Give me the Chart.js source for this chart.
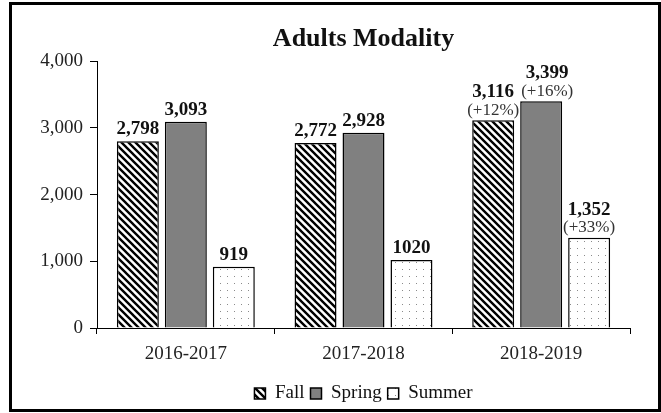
<!DOCTYPE html>
<html>
<head>
<meta charset="utf-8">
<script src="https://cdn.jsdelivr.net/npm/chart.js@4/dist/chart.umd.min.js"></script>
<style>
  html, body { margin: 0; padding: 0; background: #fff; }
  #wrap { width: 661px; height: 413px; }
</style>
</head>
<body>
<div id="wrap"><canvas id="chart" width="661" height="413"></canvas></div>
<script>
// ---- Data ----
const years = ['2016-2017', '2017-2018', '2018-2019'];
const fallValues = [2798, 2772, 3116];
const springValues = [3093, 2928, 3399];
const summerValues = [919, 1020, 1352];
// labels shown above the bars (2017-2018 summer is printed without a comma)
const fallLabels = ['2,798', '2,772', '3,116'];
const springLabels = ['3,093', '2,928', '3,399'];
const summerLabels = ['919', '1020', '1,352'];
const fallPct = ['', '', '(+12%)'];
const springPct = ['', '', '(+16%)'];
const summerPct = ['', '', '(+33%)'];
const yTicks = [0, 1000, 2000, 3000, 4000];

const SERIF = "'Liberation Serif', 'Times New Roman', serif";

// ---- Fill patterns ----
function stripePattern() {
    const c = document.createElement('canvas');
    c.width = 7; c.height = 7;
    const g = c.getContext('2d');
    g.fillStyle = '#fff';
    g.fillRect(0, 0, 7, 7);
    g.strokeStyle = '#000';
    g.lineWidth = 2.4;
    g.beginPath();
    g.moveTo(-7, -7); g.lineTo(14, 14);
    g.moveTo(-7, 0); g.lineTo(7, 14);
    g.moveTo(0, -7); g.lineTo(14, 7);
    g.stroke();
    return g.createPattern(c, 'repeat');
}

function dotPattern() {
    const c = document.createElement('canvas');
    c.width = 7; c.height = 7;
    const g = c.getContext('2d');
    g.fillStyle = '#fff';
    g.fillRect(0, 0, 7, 7);
    g.fillStyle = '#8a8a8a';
    g.fillRect(3, 3, 1, 1);
    return g.createPattern(c, 'repeat');
}

// ---- Value labels above bars ----
const barLabels = {
    id: 'barLabels',
    afterDatasetsDraw(chart) {
        const ctx = chart.ctx;
        const texts = [fallLabels, springLabels, summerLabels];
        const pcts = [fallPct, springPct, summerPct];
        ctx.save();
        ctx.textAlign = 'center';
        ctx.textBaseline = 'middle';
        chart.data.datasets.forEach((ds, di) => {
            chart.getDatasetMeta(di).data.forEach((bar, i) => {
                const x = bar.x + (di === 1 && pcts[di][i] ? 6 : 0);
                if (pcts[di][i]) {
                    ctx.fillStyle = '#333';
                    ctx.font = `17px ${SERIF}`;
                    ctx.fillText(pcts[di][i], x, bar.y - 10);
                    ctx.fillStyle = '#111';
                    ctx.font = `bold 19px ${SERIF}`;
                    ctx.fillText(texts[di][i], x, bar.y - 28);
                } else {
                    ctx.fillStyle = '#111';
                    ctx.font = `bold 19px ${SERIF}`;
                    ctx.fillText(texts[di][i], x, bar.y - 12);
                }
            });
        });
        ctx.restore();
    }
};

// ---- Outer frame ----
const frame = {
    id: 'frame',
    afterDraw(chart) {
        const ctx = chart.ctx;
        ctx.save();
        ctx.strokeStyle = '#000';
        ctx.lineWidth = 3;
        ctx.strokeRect(10.5, 3.5, 649, 407);
        ctx.restore();
    }
};

const ctx = document.getElementById('chart').getContext('2d');
new Chart(ctx, {
    type: 'bar',
    data: {
        labels: years,
        datasets: [
            { label: 'Fall', data: fallValues, backgroundColor: stripePattern(),
              borderColor: '#000', borderWidth: 1.5 },
            { label: 'Spring', data: springValues, backgroundColor: '#808080',
              borderColor: '#000', borderWidth: 1.5 },
            { label: 'Summer', data: summerValues, backgroundColor: dotPattern(),
              borderColor: '#000', borderWidth: 1.5 }
        ]
    },
    options: {
        responsive: false,
        animation: false,
        devicePixelRatio: 1,
        categoryPercentage: 0.81,
        barPercentage: 0.875,
        layout: { padding: { left: 14, right: 31, top: 14, bottom: 0 } },
        plugins: {
            title: {
                display: true, text: 'Adults Modality', color: '#111', fullSize: false,
                font: { family: SERIF, size: 26, weight: 'bold' },
                padding: { top: 10, bottom: 6 }
            },
            legend: {
                position: 'bottom', fullSize: false,
                labels: {
                    color: '#111', boxWidth: 11, boxHeight: 11, padding: 6,
                    font: { family: SERIF, size: 19 }
                }
            },
            tooltip: { enabled: false }
        },
        scales: {
            y: {
                min: 0, max: 4000,
                afterBuildTicks: s => { s.ticks = yTicks.map(v => ({ value: v })); },
                ticks: {
                    color: '#222', padding: 7,
                    font: { family: SERIF, size: 19 },
                    callback: v => v.toLocaleString('en-US')
                },
                grid: { drawOnChartArea: false, color: '#000', tickLength: 7 },
                border: { color: '#000', width: 1 },
                afterFit: s => { s.width = 83; }
            },
            x: {
                ticks: { color: '#222', padding: 9, font: { family: SERIF, size: 19 } },
                grid: { drawOnChartArea: false, color: '#000', tickLength: 6, offset: true },
                border: { color: '#000', width: 1 },
                afterFit: s => { s.height = 50; }
            }
        }
    },
    plugins: [barLabels, frame]
});
</script>
</body>
</html>
